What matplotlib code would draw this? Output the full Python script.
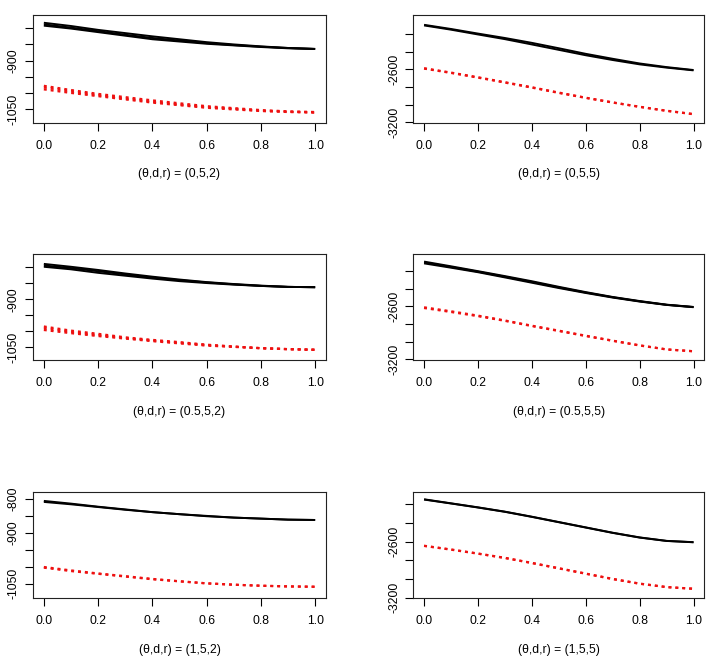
import numpy as np
import matplotlib
matplotlib.use("Agg")
import matplotlib.pyplot as plt

plt.rcParams['font.family'] = ['Liberation Sans', 'DejaVu Sans']

x = [0.0, 0.1, 0.2, 0.3, 0.4, 0.5, 0.6, 0.7, 0.8, 0.9, 1.0]

# panel titles (drawn as x labels)
labels = ["(\u03b8,d,r) = (0,5,2)", "(\u03b8,d,r) = (0,5,5)",
          "(\u03b8,d,r) = (0.5,5,2)", "(\u03b8,d,r) = (0.5,5,5)",
          "(\u03b8,d,r) = (1,5,2)", "(\u03b8,d,r) = (1,5,5)"]

# black (solid) replicates per panel
black_1 = [[-783, -793, -805, -815, -825, -834, -843, -850, -856, -861, -864],
           [-788, -798, -809, -820, -830, -838, -846, -852, -857, -861, -864],
           [-792, -801, -812, -823, -834, -841, -848, -853, -858, -862, -864]]
black_2 = [[-2096, -2143, -2195, -2245, -2300, -2361, -2424, -2480, -2533, -2574, -2607],
           [-2103, -2151, -2205, -2258, -2318, -2379, -2440, -2494, -2543, -2580, -2611]]
black_3 = [[-789, -798, -808, -819, -829, -838, -846, -852, -857, -861, -862],
           [-794, -802, -812, -822, -832, -840, -847, -853, -858, -861, -862],
           [-798, -806, -817, -826, -835, -843, -849, -854, -858, -861, -862]]
black_4 = [[-2094, -2147, -2202, -2258, -2316, -2379, -2439, -2494, -2540, -2581, -2607],
           [-2104, -2155, -2208, -2265, -2324, -2386, -2444, -2497, -2543, -2583, -2608],
           [-2114, -2163, -2214, -2273, -2333, -2393, -2449, -2501, -2546, -2584, -2610]]
black_5 = [[-807, -815, -824, -832, -840, -846, -851, -856, -859, -862, -863],
           [-810, -817, -825, -833, -840, -846, -852, -856, -859, -862, -863]]
black_6 = [[-2149, -2192, -2235, -2281, -2335, -2392, -2449, -2506, -2556, -2593, -2607],
           [-2152, -2194, -2237, -2283, -2337, -2394, -2451, -2508, -2558, -2594, -2608]]

# red (dotted) replicates per panel
red_1 = [[-978, -991, -1003, -1013, -1023, -1032, -1041, -1047, -1053, -1057, -1059],
         [-983, -995, -1007, -1017, -1027, -1036, -1044, -1049, -1055, -1058, -1060],
         [-989, -1000, -1010, -1020, -1030, -1038, -1046, -1051, -1056, -1059, -1061]]
red_2 = [[-2587, -2636, -2689, -2745, -2802, -2862, -2920, -2973, -3022, -3067, -3105],
         [-2591, -2640, -2693, -2749, -2806, -2866, -2922, -2975, -3024, -3069, -3107]]
red_3 = [[-985, -998, -1008, -1019, -1027, -1034, -1042, -1048, -1053, -1056, -1058],
         [-990, -1002, -1012, -1021, -1029, -1036, -1043, -1048, -1053, -1056, -1058],
         [-996, -1006, -1015, -1023, -1031, -1038, -1045, -1049, -1053, -1056, -1058]]
red_4 = [[-2611, -2656, -2705, -2760, -2819, -2875, -2932, -2988, -3041, -3087, -3108],
         [-2619, -2664, -2711, -2764, -2823, -2879, -2936, -2990, -3043, -3088, -3108]]
red_5 = [[-1001, -1011, -1020, -1028, -1036, -1043, -1049, -1053, -1056, -1058, -1059],
         [-1003, -1013, -1021, -1029, -1037, -1043, -1049, -1053, -1056, -1058, -1059]]
red_6 = [[-2645, -2685, -2728, -2774, -2828, -2885, -2942, -2999, -3049, -3086, -3104],
         [-2647, -2687, -2730, -2776, -2830, -2887, -2944, -3001, -3051, -3087, -3105]]

blacks = [black_1, black_2, black_3, black_4, black_5, black_6]
reds = [red_1, red_2, red_3, red_4, red_5, red_6]

# y limits, ticks and which ticks carry a label
ylims = [(-1093, -759), (-3206, -1985), (-1090, -758),
         (-3207, -2008), (-1092, -780), (-3203, -2068)]
yticks_left = [-800, -850, -900, -950, -1000, -1050]
yticks_right = [-3200, -3000, -2800, -2600, -2400, -2200]
ylab_1 = ["", "", "-900", "", "", "-1050"]
ylab_5 = ["-800", "", "-900", "", "", "-1050"]
ylab_r = ["-3200", "", "", "-2600", "", ""]
ytick_labels = [ylab_1, ylab_r, ylab_1, ylab_r, ylab_5, ylab_r]
xticks = [0.0, 0.2, 0.4, 0.6, 0.8, 1.0]

fig = plt.figure(figsize=(7.14, 6.67), dpi=100)

lefts = [33 / 714, 413.3 / 714]
widths = [293 / 714, 291 / 714]
bottoms = [1 - 123 / 667, 1 - 360 / 667, 1 - 598 / 667]
heights = [108 / 667, 106 / 667, 106.3 / 667]

for i in range(6):
    row, col = i // 2, i % 2
    ax = fig.add_axes([lefts[col], bottoms[row], widths[col], heights[row]])
    for yy in blacks[i]:
        ax.plot(x, yy, color='black', lw=1.4, solid_capstyle='butt')
    for yy in reds[i]:
        ax.plot(x, yy, color='#ee1111', lw=1.6, linestyle=(0, (1.3, 1.8)),
                dash_capstyle='butt')
    ax.set_xlim(-0.04, 1.04)
    ax.set_ylim(*ylims[i])
    ax.set_xticks(xticks)
    ax.set_xticklabels(["%.1f" % t for t in xticks])
    yt = yticks_left if col == 0 else yticks_right
    ax.set_yticks(yt)
    ax.set_yticklabels(ytick_labels[i], rotation=90, va='center')
    ax.tick_params(axis='both', direction='out', length=5.5, width=0.8,
                   labelsize=8.7, colors='black')
    ax.tick_params(axis='x', pad=7)
    ax.tick_params(axis='y', pad=4)
    for s in ax.spines.values():
        s.set_linewidth(0.8)
        s.set_color('#222222')
    ax.set_xlabel(labels[i], fontsize=8.7)
    ax.xaxis.set_label_coords(0.5, -51.5 / (heights[row] * 667))
    ax.xaxis.label.set_va('center')

fig.savefig("out.png", dpi=100)
